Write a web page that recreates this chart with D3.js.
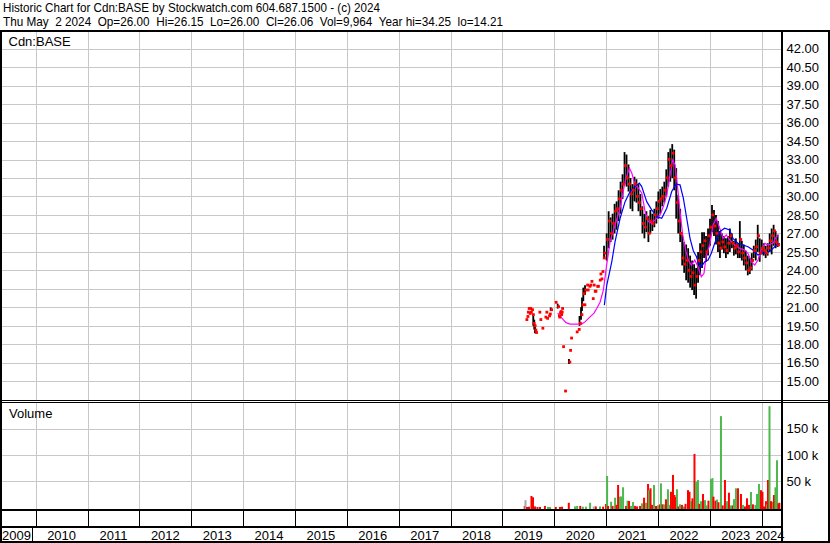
<!DOCTYPE html>
<html><head><meta charset="utf-8">
<script src="https://cdn.jsdelivr.net/npm/d3@7"></script>
<style>
body{margin:0;background:#fff;}
svg{display:block;font-family:"Liberation Sans",Arial,sans-serif;font-size:13px;}
</style></head><body>
<svg id="c" width="830" height="543"></svg>
<script>
// ---------- text ----------
const headerLine1 = "Historic Chart for Cdn:BASE by Stockwatch.com 604.687.1500 - (c) 2024";
const headerLine2 = "Thu May  2 2024  Op=26.00  Hi=26.15  Lo=26.00  Cl=26.06  Vol=9,964  Year hi=34.25  lo=14.21";
const symbolLabel = "Cdn:BASE";
const volumeLabel = "Volume";
const yearLabels = [2009,2010,2011,2012,2013,2014,2015,2016,2017,2018,2019,2020,2021,2022,2023,2024];
const priceTicks = [15,16.5,18,19.5,21,22.5,24,25.5,27,28.5,30,31.5,33,34.5,36,37.5,39,40.5,42];
const volTicks = [50000,100000,150000];
const volTickLabels = ["50 k","100 k","150 k"];

// ---------- early (sparse) trades, decimal years ----------
const earlyYears = [2019.454,2019.474,2019.483,2019.499,2019.518,2019.532,2019.541,2019.564,2019.580,2019.595,
  2019.614,2019.628,2019.641,2019.705,2019.724,2019.763,2019.821,2019.840,2019.854,2019.892,
  2019.907,2019.931,2020.019,2020.066,2020.081,2020.091,2020.104,2020.114,2020.125,2020.135,
  2020.143,2020.162,2020.200,2020.283,2020.297,2020.316,2020.424,2020.463,2020.486,2020.515,
  2020.534,2020.559,2020.573,2020.592,2020.625,2020.636,2020.669,2020.688,2020.708,2020.733,
  2020.752,2020.771,2020.785,2020.818,2020.833,2020.868,2020.881,2020.901,2020.920,2020.945,2020.958];
const earlyHigh = [20.0,20.25,20.6,20.9,20.5,20.9,20.6,20.8,20.4,20.3,
  20.0,19.6,18.95,20.6,20.0,19.3,20.2,20.6,20.1,20.3,
  20.45,21.0,21.4,21.3,20.3,20.2,20.55,20.65,20.4,20.6,
  20.9,17.8,14.2,16.8,17.5,18.5,19.0,19.2,20.3,21.0,
  21.8,22.6,21.2,22.8,22.8,22.4,22.7,22.8,23.1,21.7,
  22.8,22.3,22.3,22.7,22.7,23.2,23.7,23.3,23.9,25.0,26.0];
const earlyLow = [20.0,20.25,20.6,20.9,20.5,20.9,20.6,20.8,20.4,19.5,
  19.2,18.9,18.95,20.6,20.0,19.3,20.2,20.6,20.1,20.3,
  20.45,20.7,21.4,20.9,20.3,20.2,20.55,20.65,20.4,20.6,
  20.9,17.8,14.2,16.4,17.5,18.5,19.0,19.2,19.5,20.0,
  20.7,21.5,21.2,22.0,22.8,22.4,22.7,22.8,23.1,21.7,
  22.8,22.3,22.3,22.7,22.7,23.2,23.7,23.3,23.9,25.0,25.0];
const earlyClose = [20.0,20.25,20.6,20.9,20.5,20.9,20.6,20.8,20.4,19.7,
  19.5,19.15,18.95,20.6,20.0,19.3,20.2,20.6,20.1,20.3,
  20.45,20.8,21.4,21.05,20.3,20.2,20.55,20.65,20.4,20.6,
  20.9,17.8,14.2,16.55,17.5,18.5,19.0,19.2,19.7,20.4,
  21.2,22.1,21.2,22.4,22.8,22.4,22.7,22.8,23.1,21.7,
  22.8,22.3,22.3,22.7,22.7,23.2,23.7,23.3,23.9,25.0,25.4];

// ---------- active trading: two-week bars starting 2021-01-04 ----------
const barStart = "2021-01-04";
const barStepDays = 14;
const barHigh = [27.0,28.8,28.3,28.6,29.4,29.6,30.5,31.2,31.8,33.6,
  33.4,32.6,31.5,31.0,31.6,31.4,31.0,30.2,29.2,28.6,
  28.8,28.4,28.9,28.6,29.0,29.6,30.4,30.6,30.8,31.2,
  32.2,33.6,33.9,34.25,33.8,32.3,30.1,29.0,26.9,26.3,
  26.1,25.8,25.2,24.8,24.5,24.2,25.5,26.2,27.1,27.1,
  26.8,27.4,28.2,29.3,28.9,28.5,28.0,27.2,27.0,26.8,
  26.6,26.8,27.4,27.0,26.4,26.6,26.2,28.0,26.4,26.1,
  25.6,25.2,25.0,25.4,26.0,26.5,27.7,26.6,26.5,26.2,
  26.0,26.2,27.0,27.4,27.7,27.2,26.9];
const barLow = [24.8,25.8,26.3,26.5,27.0,27.3,28.0,28.6,29.8,31.0,
  30.8,30.4,29.0,28.8,29.6,29.5,28.8,28.4,27.0,26.6,
  27.1,26.3,27.0,27.2,27.5,27.8,28.2,28.6,29.2,29.5,
  30.0,30.8,31.2,31.5,30.5,28.2,27.0,26.3,24.4,23.8,
  23.2,23.0,22.6,22.4,22.0,21.7,23.0,23.6,24.2,25.0,
  24.7,25.2,26.0,27.1,26.8,26.1,25.5,25.0,25.7,25.4,
  25.0,25.3,25.5,25.8,25.2,25.3,25.0,25.0,24.8,24.4,
  24.0,23.6,23.7,24.0,25.0,24.8,25.5,24.7,25.3,25.2,
  25.0,25.2,25.5,25.3,26.0,25.8,25.9];
const barClose = [26.5,28.0,27.0,27.8,28.8,29.0,29.8,30.5,31.0,32.5,
  31.5,31.0,30.2,30.5,31.0,30.0,29.5,29.0,27.8,27.5,
  28.2,27.0,28.0,27.8,28.5,29.0,29.6,29.8,30.0,30.5,
  31.5,33.0,32.5,33.5,31.5,29.5,28.0,27.0,25.0,24.5,
  24.8,24.0,23.5,23.8,22.8,23.5,24.8,25.5,26.0,26.4,
  25.5,26.8,27.5,28.5,27.6,27.0,26.2,25.8,26.3,25.9,
  25.6,26.2,26.8,26.2,25.8,26.0,25.5,26.5,25.4,25.0,
  24.6,24.0,24.2,24.8,25.6,25.9,26.8,25.4,25.8,25.6,
  25.4,25.8,26.4,26.8,27.2,26.3,26.06];

// ---------- moving averages ----------
const maFastYears = [2020.066,2020.148,2020.226,2020.303,2020.418,2020.528,2020.592,2020.688,2020.765,2020.818,
  2020.881,2020.945,2021.007,2021.075,2021.172,2021.268,2021.364,2021.447,2021.493,2021.557,
  2021.621,2021.687,2021.750,2021.814,2021.880,2021.943,2022.039,2022.102,2022.168,2022.232,
  2022.283,2022.328,2022.372,2022.424,2022.476,2022.540,2022.584,2022.642,2022.708,2022.771,
  2022.835,2022.887,2022.931,2022.997,2023.061,2023.124,2023.190,2023.254,2023.317,2023.382,
  2023.479,2023.575,2023.672,2023.736,2023.799,2023.865,2023.928,2023.992,2024.058,2024.121,
  2024.218,2024.281,2024.333];
const maFastValues = [20.53,20.12,19.76,19.64,19.64,19.64,19.82,20.23,20.53,20.91,
  21.42,22.4,24.4,26.33,27.69,29.05,31.2,32.3,31.9,30.94,
  30.67,30.26,28.77,27.96,27.83,28.1,28.5,29.18,30.13,31.75,
  32.97,32.57,30.94,28.77,26.87,25.52,24.84,24.43,24.84,24.3,
  23.48,23.76,25.25,26.06,27.69,28.23,27.42,26.6,26.87,26.47,
  26.06,25.79,25.65,25.39,24.7,24.43,24.84,25.65,26.2,26.06,
  26.2,26.74,26.87];
const maSlowYears = [2020.964,2021.011,2021.107,2021.171,2021.268,2021.364,2021.460,2021.557,2021.639,2021.685,
  2021.782,2021.878,2021.975,2022.071,2022.168,2022.264,2022.347,2022.424,2022.488,2022.553,
  2022.617,2022.680,2022.742,2022.771,2022.835,2022.901,2022.965,2023.028,2023.093,2023.190,
  2023.286,2023.382,2023.446,2023.542,2023.638,2023.735,2023.831,2023.928,2023.992,2024.088,
  2024.185,2024.281,2024.347];
const maSlowValues = [21.18,22.81,24.7,26.33,28.23,29.58,30.4,30.8,31.08,30.8,
  29.58,28.91,28.36,28.23,29.05,30.4,31.0,30.94,29.86,28.23,
  26.6,25.6,25.1,24.7,24.29,24.7,24.84,25.39,26.2,27.14,
  27.42,27.28,26.6,26.2,26.06,25.92,25.65,25.25,25.39,25.39,
  25.65,26.06,26.2];

// ---------- volume (decimal years, shares, direction u/d/n) ----------
const volYears = [2019.430,2019.445,2019.474,2019.512,2019.560,2019.590,2019.628,2019.676,2019.725,2019.820,
  2019.880,2019.920,2020.030,2020.110,2020.150,2020.280,2020.400,2020.440,2020.500,2020.550,
  2020.610,2020.690,2020.760,2020.800,2020.880,2020.940,2020.997,
  2021.017,2021.036,2021.094,2021.123,2021.171,2021.200,2021.229,2021.267,2021.287,2021.325,
  2021.383,2021.412,2021.440,2021.479,2021.518,2021.556,2021.595,2021.653,2021.691,2021.730,
  2021.768,2021.807,2021.826,2021.855,2021.884,2021.922,2021.961,2022.000,2022.037,2022.056,
  2022.085,2022.114,2022.153,2022.191,2022.230,2022.249,2022.288,2022.317,2022.336,2022.365,
  2022.394,2022.423,2022.461,2022.500,2022.530,2022.578,2022.607,2022.636,2022.664,2022.703,
  2022.732,2022.770,2022.799,2022.828,2022.867,2022.906,2022.935,2022.973,2023.021,2023.050,
  2023.069,2023.108,2023.137,2023.166,2023.214,2023.247,2023.291,2023.330,2023.368,2023.407,
  2023.445,2023.465,2023.503,2023.542,2023.600,2023.638,2023.677,2023.716,2023.754,2023.793,
  2023.831,2023.880,2023.909,2023.947,2023.986,2024.015,2024.044,2024.082,2024.102,2024.121,
  2024.150,2024.179,2024.217,2024.236,2024.265,2024.294,2024.323,2024.340];
const volValues = [3000,14000,1000,1500,21900,19400,2000,1000,1000,3000,
  1000,1000,1000,1000,1500,9000,2000,3000,3000,1500,
  1500,9000,2000,2000,2000,1500,6700,
  60000,3000,11000,3000,18700,5000,42900,20600,21000,38500,
  3000,13000,12400,3000,10500,3000,2000,3000,8000,18700,
  9000,44800,33000,36600,5000,42900,3000,4000,6000,46000,
  6000,6000,15600,34700,5000,30000,62000,23800,20000,34700,
  2000,6000,5000,2000,7000,33000,30000,12000,17500,102000,
  49000,52400,7000,12000,25700,14000,4000,13000,54000,56000,
  20600,13000,15000,10000,174000,4000,52400,12000,28200,4000,
  4000,16000,36600,36600,25700,5000,2000,17500,5000,29500,
  6000,5000,25700,44800,33000,30000,2000,12000,6000,52400,
  193000,12000,11000,23800,38500,90000,8000,9000];
const volDirs = ["d","n","d","d","d","d","d","d","d","d",
  "u","u","d","d","d","d","u","u","d","u",
  "u","u","n","d","u","d","d",
  "u","d","u","d","u","d","d","u","u","u",
  "d","u","d","u","u","d","d","d","u","d",
  "u","d","u","d","d","u","d","u","d","u",
  "d","u","d","u","u","d","d","d","d","u",
  "d","u","d","u","d","d","d","u","d","d",
  "u","u","d","u","d","u","u","d","u","u",
  "d","d","u","d","u","d","d","u","d","u",
  "d","u","u","d","d","u","d","d","d","u",
  "d","u","u","u","d","d","d","d","u","d",
  "u","d","u","d","u","u","d","d"];

// ---------- helpers ----------
function yd(y){ const yr=Math.floor(y); const s=Date.UTC(yr,0,1), e=Date.UTC(yr+1,0,1); return new Date(s+(y-yr)*(e-s)); }

const svg = d3.select("#c");
const PL=2, PR=782, PT=31, PB=400, VT=403, VB=510;
const x = d3.scaleUtc().domain([new Date(Date.UTC(2010,0,1)), new Date(Date.UTC(2024,0,1))]).range([35.7,761.7]);
const yP = d3.scaleLinear().domain([13.48,43.43]).range([PB,PT]);
const yV = d3.scaleLinear().domain([0,200000]).range([507.5,402.5]);
const grid = "#c8c8c8";

svg.append("rect").attr("width",830).attr("height",543).attr("fill","#fff");

const defs = svg.append("defs");
defs.append("clipPath").attr("id","cp").append("rect").attr("x",PL).attr("y",PT).attr("width",PR-PL-1).attr("height",PB-PT);
defs.append("clipPath").attr("id","cv").append("rect").attr("x",PL).attr("y",VT).attr("width",PR-PL-1).attr("height",VB-VT);

const yearBounds = d3.range(2010,2025).map(y=>new Date(Date.UTC(y,0,1)));

// grids
const gGrid = svg.append("g").attr("stroke",grid).attr("stroke-width",1).attr("shape-rendering","crispEdges");
yearBounds.forEach(d=>{
  const xx=Math.round(x(d))+0.5;
  gGrid.append("line").attr("x1",xx).attr("x2",xx).attr("y1",PT).attr("y2",PB);
  gGrid.append("line").attr("x1",xx).attr("x2",xx).attr("y1",VT).attr("y2",VB);
});
priceTicks.forEach(v=>{
  const yy=Math.round(yP(v))+0.5;
  gGrid.append("line").attr("x1",PL).attr("x2",PR).attr("y1",yy).attr("y2",yy);
});
volTicks.forEach(v=>{
  const yy=Math.round(yV(v))+0.5;
  gGrid.append("line").attr("x1",PL).attr("x2",PR).attr("y1",yy).attr("y2",yy);
});

// ---------- price marks ----------
const gP = svg.append("g").attr("clip-path","url(#cp)");
const early = earlyYears.map((y,i)=>({d:yd(y),h:earlyHigh[i],l:earlyLow[i],c:earlyClose[i]}));
const t0 = new Date(barStart+"T00:00:00Z");
const bars = barHigh.map((h,i)=>({d:d3.utcDay.offset(t0,i*barStepDays),h:h,l:barLow[i],c:barClose[i]}));
const allBars = early.concat(bars);

gP.selectAll("line.hl").data(allBars.filter(b=>b.h>b.l)).join("line")
  .attr("x1",b=>x(b.d)).attr("x2",b=>x(b.d))
  .attr("y1",b=>yP(b.h)).attr("y2",b=>yP(b.l))
  .attr("stroke","#000").attr("stroke-width",1.8);

const lineGen = d3.line().x(p=>x(p[0])).y(p=>yP(p[1]));
gP.append("path").datum(maFastYears.map((y,i)=>[yd(y),maFastValues[i]]))
  .attr("d",lineGen).attr("fill","none").attr("stroke","#ff00ff").attr("stroke-width",1.2);
gP.append("path").datum(maSlowYears.map((y,i)=>[yd(y),maSlowValues[i]]))
  .attr("d",lineGen).attr("fill","none").attr("stroke","#0000ff").attr("stroke-width",1.2);

gP.selectAll("rect.cl").data(allBars).join("rect")
  .attr("x",b=>x(b.d)-0.5).attr("y",b=>yP(b.c)-1.5)
  .attr("width",2.8).attr("height",2.8).attr("fill","#ff0000");

// ---------- volume ----------
const gV = svg.append("g").attr("clip-path","url(#cv)");
const volColor = {u:"#4db84d", d:"#ff0000", n:"#a8a8a8"};
gV.selectAll("rect").data(volYears.map((y,i)=>({d:yd(y),v:volValues[i],k:volDirs[i]}))).join("rect")
  .attr("x",b=>x(b.d)-1).attr("width",2)
  .attr("y",b=>yV(b.v)).attr("height",b=>VB-yV(b.v))
  .attr("fill",b=>volColor[b.k]);

// ---------- frame ----------
const fr = svg.append("g").attr("stroke","#000").attr("shape-rendering","crispEdges");
fr.append("line").attr("x1",0).attr("x2",830).attr("y1",30.5).attr("y2",30.5).attr("stroke-width",2);
fr.append("line").attr("x1",1).attr("x2",1).attr("y1",30).attr("y2",543).attr("stroke-width",2);
fr.append("line").attr("x1",PR).attr("x2",PR).attr("y1",30).attr("y2",543).attr("stroke-width",2);
fr.append("line").attr("x1",829).attr("x2",829).attr("y1",30).attr("y2",543).attr("stroke-width",2);
fr.append("line").attr("x1",0).attr("x2",830).attr("y1",400.5).attr("y2",400.5).attr("stroke-width",1);
fr.append("line").attr("x1",0).attr("x2",830).attr("y1",402.5).attr("y2",402.5).attr("stroke-width",1);
fr.append("line").attr("x1",0).attr("x2",PR).attr("y1",510).attr("y2",510).attr("stroke-width",2);
fr.append("line").attr("x1",0).attr("x2",PR).attr("y1",527).attr("y2",527).attr("stroke-width",2);
fr.append("line").attr("x1",0).attr("x2",830).attr("y1",542).attr("y2",542).attr("stroke-width",2);
yearBounds.forEach(d=>{
  const xx=Math.round(x(d))+0.5;
  fr.append("line").attr("x1",xx).attr("x2",xx).attr("y1",511).attr("y2",526).attr("stroke-width",1);
});
fr.append("line").attr("x1",32.5).attr("x2",32.5).attr("y1",528).attr("y2",541).attr("stroke-width",1);

// ---------- text ----------
const keepSpaces = s => s.replace(/  /g, "\u00a0 ");
svg.append("text").attr("x",3).attr("y",12).attr("textLength",377).attr("lengthAdjust","spacingAndGlyphs").text(headerLine1);
svg.append("text").attr("x",3).attr("y",26).attr("textLength",500).attr("lengthAdjust","spacingAndGlyphs").text(keepSpaces(headerLine2));
svg.append("text").attr("x",8.5).attr("y",46).text(symbolLabel);
svg.append("text").attr("x",9).attr("y",418).text(volumeLabel);

svg.selectAll("text.pt").data(priceTicks).join("text")
  .attr("x",786.5).attr("y",v=>yP(v)).attr("dy","0.36em").text(v=>d3.format(".2f")(v));
svg.selectAll("text.vt").data(volTicks).join("text")
  .attr("x",786.5).attr("y",v=>yV(v)).attr("dy","0.36em").text((v,i)=>volTickLabels[i]);

svg.selectAll("text.yr").data(yearLabels).join("text")
  .attr("x",y=>{
    const mid = x(yd(y+0.5));
    return Math.max(PL+14.5, Math.min(PR-12, mid));
  })
  .attr("y",540).attr("text-anchor","middle").text(y=>y);
</script>
</body></html>
